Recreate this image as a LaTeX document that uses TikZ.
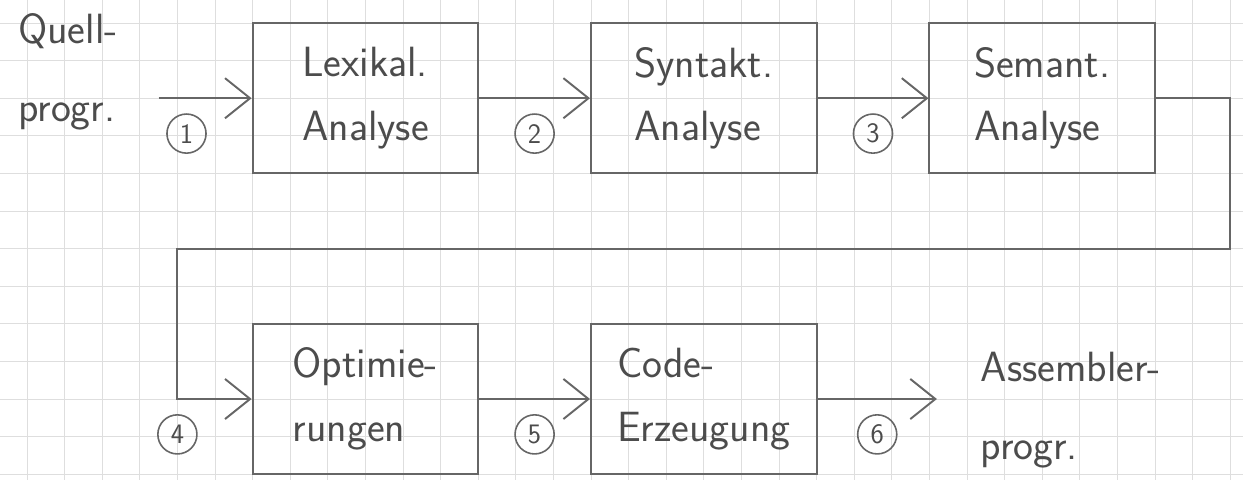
\documentclass[tikz,border=0pt]{standalone}
\usepackage{fontspec}
\usetikzlibrary{arrows.meta}

\begin{document}
\begin{tikzpicture}[x=0.75cm, y=-0.75cm,
  paper/.style={draw=black!13, line width=0.5pt},
  pencil/.style={draw=black!60, line width=1.1pt},
  stage/.style={pencil, rectangle, minimum width=4.5cm, minimum height=3cm,
    align=left, text=black!70, font=\sffamily\fontsize{24}{36}\selectfont},
  note/.style={align=left, text=black!70, font=\sffamily\fontsize{24}{44}\selectfont},
  flow/.style={pencil, -{Straight Barb[length=5mm, width=8mm]}},
  phase/.style={circle, draw=black!60, line width=0.9pt, minimum size=0.78cm,
    inner sep=0pt, text=black!70, font=\sffamily\fontsize{16}{16}\selectfont,
    midway, below=0.3cm}]
  \useasboundingbox (-0.718,-0.612) rectangle (32.341,12.128);

  % squared paper
  \begin{scope}
    \clip (-0.718,-0.612) rectangle (32.341,12.128);
    \foreach \gx in {-1,...,33} \draw[paper] (\gx,-1) -- (\gx,13);
    \foreach \gy in {-1,...,13} \draw[paper] (-1,\gy) -- (33,\gy);
  \end{scope}

  \node[stage] (lex)  at (9,2)   {Lexikal.\\Analyse};
  \node[stage] (syn)  at (18,2)  {Syntakt.\\Analyse};
  \node[stage] (sem)  at (27,2)  {Semant.\\Analyse};
  \node[stage] (opt)  at (9,10)  {Optimie-\\rungen};
  \node[stage] (code) at (18,10) {Code-\\Erzeugung};
  \node[note, anchor=west] (src) at (-0.4,1.3) {Quell-\\progr.};
  \node[note, anchor=west] (asm) at (25.2,10.3) {Assembler-\\progr.};

  \coordinate (in)    at (3.5,2);
  \coordinate (out)   at (24.2,10);
  \coordinate (backR) at (32,6);
  \coordinate (backL) at (4,6);

  \draw[flow] (in) -- (lex) node[phase, pos=.3] {1};
  \draw[flow] (lex) -- (syn) node[phase] {2};
  \draw[flow] (syn) -- (sem) node[phase] {3};
  \draw[flow] (sem) -| (backR) -- (backL) |- (opt) node[phase] {4};
  \draw[flow] (opt) -- (code) node[phase] {5};
  \draw[flow] (code) -- (out) node[phase] {6};
\end{tikzpicture}
\end{document}
